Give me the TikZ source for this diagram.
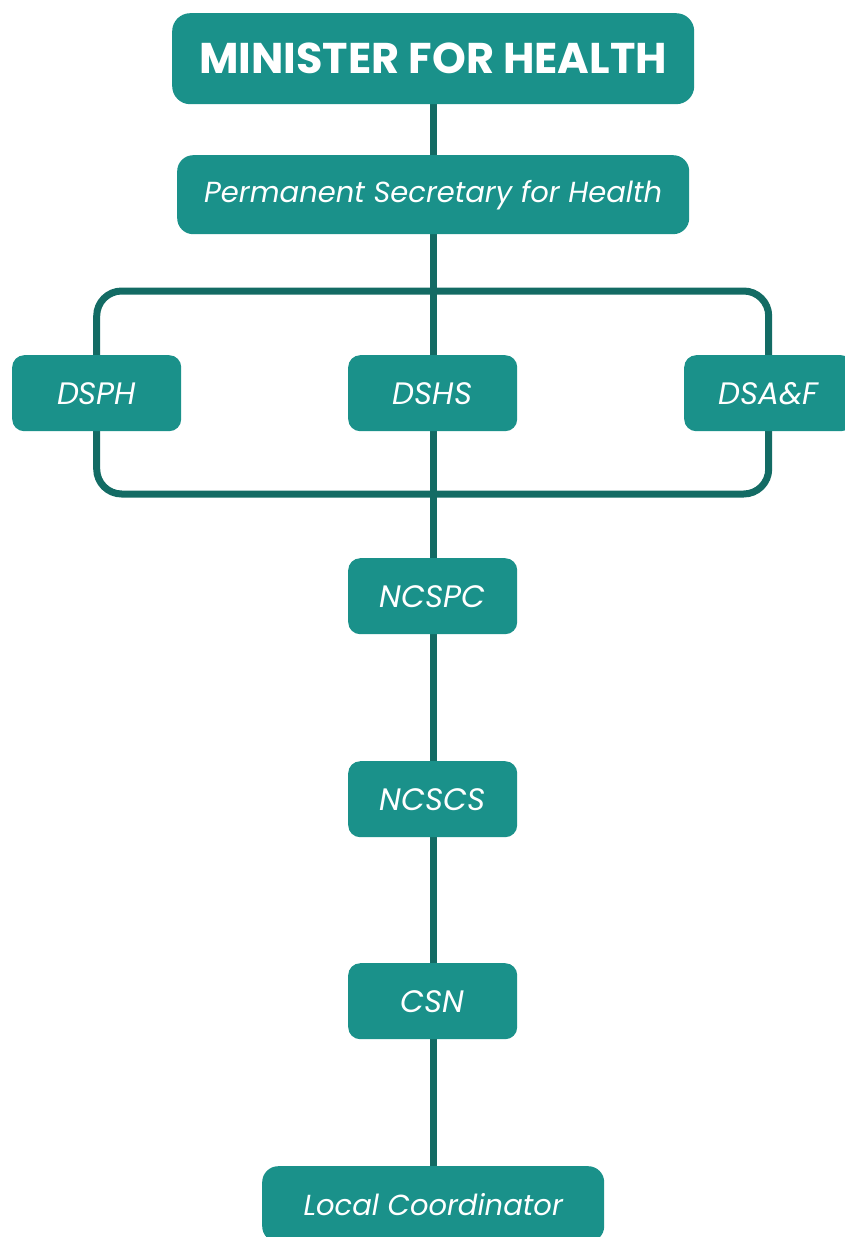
\documentclass[tikz,border=0pt]{standalone}
\usepackage{fontspec}
\setmainfont{Poppins}
\usetikzlibrary{backgrounds}
\definecolor{boxfill}{HTML}{1A918A}
\definecolor{linkline}{HTML}{136B64}
\tikzset{
  orgbox/.style={fill=boxfill, text=white, rounded corners=12pt, inner sep=0pt, anchor=north west},
  smallbox/.style={orgbox, minimum width=169pt, minimum height=76pt, font=\fontsize{31}{34}\selectfont\itshape},
  link/.style={draw=linkline, line width=7pt},
}
\begin{document}
\begin{tikzpicture}[x=1pt,y=-1pt]
  \useasboundingbox (0,0) rectangle (844,1237);
  % chain of command
  \node[orgbox, minimum width=522pt, minimum height=91pt, rounded corners=18pt,
        font=\fontsize{43}{48}\selectfont\bfseries] (min) at (172,13) {MINISTER FOR HEALTH};
  \node[orgbox, minimum width=512pt, minimum height=79pt, rounded corners=16pt,
        font=\fontsize{29}{32}\selectfont\itshape] (ps) at (177,155) {Permanent Secretary for Health};
  \node[smallbox] (dsph) at (12,355) {DSPH};
  \node[smallbox] (dshs) at (348,355) {DSHS};
  \node[smallbox] (dsaf) at (684,355) {DSA\&F};
  \node[smallbox] (ncspc) at (348,558) {NCSPC};
  \node[smallbox] (ncscs) at (348,761) {NCSCS};
  \node[smallbox] (csn) at (348,963) {CSN};
  \node[orgbox, minimum width=342pt, minimum height=76pt, rounded corners=16pt,
        font=\fontsize{29}{32}\selectfont\itshape] (local) at (262,1166) {Local Coordinator};
  \begin{scope}[on background layer]
    % directorates grouped under the permanent secretary
    \draw[link, rounded corners=25pt] (dsph.center |- 0,291) rectangle (dsaf.center |- 0,494);
    \draw[link] (min.south) -- (local.north);
  \end{scope}
\end{tikzpicture}
\end{document}
